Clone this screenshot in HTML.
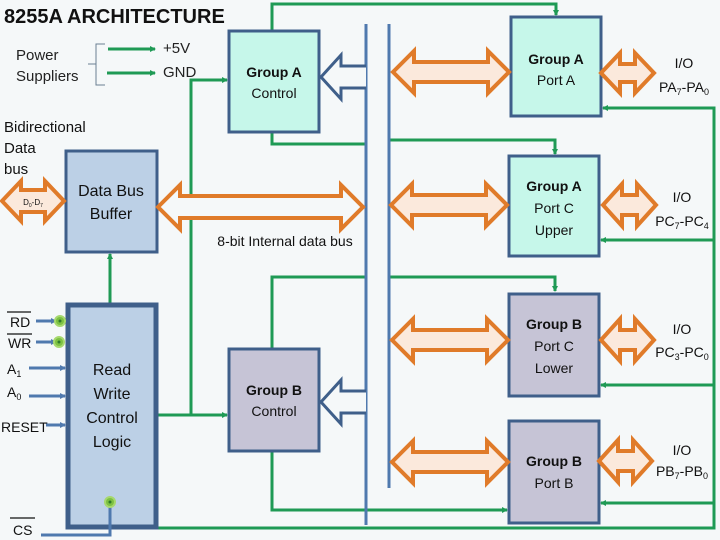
<!DOCTYPE html>
<html><head><style>
body{margin:0;background:#f5f8f9;}
svg{display:block;font-family:"Liberation Sans",sans-serif;}
</style></head><body>
<svg width="720" height="540" viewBox="0 0 720 540" xmlns="http://www.w3.org/2000/svg">
<defs>
<marker id="g" markerWidth="6" markerHeight="6" refX="5" refY="3" orient="auto" markerUnits="userSpaceOnUse"><path d="M0,0 L6,3 L0,6 Z" fill="#1f9a55"/></marker>
<marker id="b" markerWidth="6" markerHeight="6" refX="5" refY="3" orient="auto" markerUnits="userSpaceOnUse"><path d="M0,0 L6,3 L0,6 Z" fill="#4f79ae"/></marker>
</defs>
<rect width="720" height="540" fill="#f5f8f9"/>
<text x="4" y="23" font-size="20" font-weight="bold" fill="#111">8255A ARCHITECTURE</text>
<text x="16" y="60" font-size="15" fill="#222">Power</text>
<text x="16" y="81" font-size="15" fill="#222">Suppliers</text>
<path d="M105,44 H96 V85 H105 M96,64 H88" stroke="#6a7f93" fill="none" stroke-width="1"/>
<g stroke="#1f9a55" stroke-width="3" fill="none">
<line x1="108" y1="49" x2="155" y2="49" marker-end="url(#g)"/>
<line x1="107" y1="73" x2="155" y2="73" marker-end="url(#g)"/>
</g>
<text x="163" y="53" font-size="15" fill="#222">+5V</text>
<text x="163" y="77" font-size="15" fill="#222">GND</text>
<text x="4" y="132" font-size="15" fill="#111">Bidirectional</text>
<text x="4" y="153" font-size="15" fill="#111">Data</text>
<text x="4" y="174" font-size="15" fill="#111">bus</text>

<g stroke="#1f9a55" stroke-width="3" fill="none">
<polyline points="272,31 272,4 556,4 556,15" marker-end="url(#g)"/>
<polyline points="272,132 272,144 366,144"/>
<polyline points="389,140 555,140 555,154" marker-end="url(#g)"/>
<polyline points="272,349 272,277 366,277"/>
<polyline points="389,277 555,277 555,291" marker-end="url(#g)"/>
<polyline points="191,415 191,80 227,80" marker-end="url(#g)"/>
<polyline points="157,415 227,415" marker-end="url(#g)"/>
<polyline points="110,303 110,254" marker-end="url(#g)"/>
<polyline points="272,451 272,510 507,510" marker-end="url(#g)"/>
<polyline points="133,502 133,528 714,528 714,108 603,108" marker-end="url(#g)"/>
<polyline points="714,240 601,240" marker-end="url(#g)"/>
<polyline points="714,385 601,385" marker-end="url(#g)"/>
<polyline points="714,503 601,503" marker-end="url(#g)"/>
</g>

<g stroke="#4f79ae" stroke-width="3" fill="none">
<line x1="366" y1="24" x2="366" y2="525"/>
<line x1="389" y1="24" x2="389" y2="488"/>
</g>
<g stroke="#3f5f8a" stroke-width="3" fill="#f5f8f9">
<path d="M366,66 H341 V55 L321,77 L341,99 V88 H366"/>
<path d="M366,391 H341 V380 L321,402 L341,424 V413 H366"/>
</g>

<rect x="229" y="31" width="90" height="101" fill="#c6f7ea" stroke="#3f5f8a" stroke-width="3"/>
<text x="274" y="77" font-size="14" font-weight="bold" text-anchor="middle" fill="#111">Group A</text>
<text x="274" y="98" font-size="14" text-anchor="middle" fill="#111">Control</text>
<rect x="229" y="349" width="90" height="102" fill="#c6c4d6" stroke="#3f5f8a" stroke-width="3"/>
<text x="274" y="395" font-size="14" font-weight="bold" text-anchor="middle" fill="#111">Group B</text>
<text x="274" y="416" font-size="14" text-anchor="middle" fill="#111">Control</text>
<rect x="66" y="151" width="91" height="101" fill="#bcd0e6" stroke="#3f5f8a" stroke-width="3"/>
<text x="111" y="196" font-size="16" text-anchor="middle" fill="#111">Data Bus</text>
<text x="111" y="219" font-size="16" text-anchor="middle" fill="#111">Buffer</text>
<rect x="68" y="305" width="88" height="222" fill="#bcd0e6" stroke="#3f5f8a" stroke-width="5"/>
<text x="112" y="375" font-size="16" text-anchor="middle" fill="#111">Read</text>
<text x="112" y="399" font-size="16" text-anchor="middle" fill="#111">Write</text>
<text x="112" y="423" font-size="16" text-anchor="middle" fill="#111">Control</text>
<text x="112" y="447" font-size="16" text-anchor="middle" fill="#111">Logic</text>

<rect x="511" y="17" width="90" height="99" fill="#c6f7ea" stroke="#3f5f8a" stroke-width="3"/>
<text x="556" y="64" font-size="14" font-weight="bold" text-anchor="middle" fill="#111">Group A</text>
<text x="556" y="85" font-size="14" text-anchor="middle" fill="#111">Port A</text>
<rect x="509" y="156" width="90" height="100" fill="#c6f7ea" stroke="#3f5f8a" stroke-width="3"/>
<text x="554" y="191" font-size="14" font-weight="bold" text-anchor="middle" fill="#111">Group A</text>
<text x="554" y="213" font-size="14" text-anchor="middle" fill="#111">Port C</text>
<text x="554" y="235" font-size="14" text-anchor="middle" fill="#111">Upper</text>
<rect x="509" y="294" width="90" height="102" fill="#c6c4d6" stroke="#3f5f8a" stroke-width="3"/>
<text x="554" y="329" font-size="14" font-weight="bold" text-anchor="middle" fill="#111">Group B</text>
<text x="554" y="351" font-size="14" text-anchor="middle" fill="#111">Port C</text>
<text x="554" y="373" font-size="14" text-anchor="middle" fill="#111">Lower</text>
<rect x="509" y="421" width="90" height="102" fill="#c6c4d6" stroke="#3f5f8a" stroke-width="3"/>
<text x="554" y="466" font-size="14" font-weight="bold" text-anchor="middle" fill="#111">Group B</text>
<text x="554" y="488" font-size="14" text-anchor="middle" fill="#111">Port B</text>

<g stroke="#e07b2a" stroke-width="4" fill="#fbe9dc" stroke-linejoin="miter">
<path d="M158,207 L180,185 L180,196 L341,196 L341,185 L363,207 L341,229 L341,218 L180,218 L180,229 Z" fill="#f5f8f9"/>
<path d="M2,201 L21,181 L21,190 L45,190 L45,181 L64,201 L45,221 L45,212 L21,212 L21,221 Z"/>
<path d="M393,72 L414,51 L414,62 L488,62 L488,51 L509,72 L488,93 L488,82 L414,82 L414,93 Z"/>
<path d="M391,205 L412,184 L412,195 L486,195 L486,184 L507,205 L486,226 L486,215 L412,215 L412,226 Z"/>
<path d="M392,340 L413,319 L413,330 L487,330 L487,319 L508,340 L487,361 L487,350 L413,350 L413,361 Z"/>
<path d="M392,462 L413,441 L413,452 L487,452 L487,441 L508,462 L487,483 L487,472 L413,472 L413,483 Z"/>
<path d="M601,73 L620,53 L620,64 L635,64 L635,53 L654,73 L635,93 L635,82 L620,82 L620,93 Z"/>
<path d="M603,205 L622,184 L622,195 L637,195 L637,184 L656,205 L637,226 L637,215 L622,215 L622,226 Z"/>
<path d="M601,340 L620,319 L620,330 L635,330 L635,319 L654,340 L635,361 L635,350 L620,350 L620,361 Z"/>
<path d="M599,461 L618,440 L618,451 L633,451 L633,440 L652,461 L633,482 L633,471 L618,471 L618,482 Z"/>
</g>
<text x="33" y="205" font-size="8" text-anchor="middle" fill="#111">D<tspan font-size="5" dy="2">0</tspan><tspan dy="-2">-D</tspan><tspan font-size="5" dy="2">7</tspan></text>
<text x="285" y="246" font-size="14" text-anchor="middle" fill="#111">8-bit Internal data bus</text>

<g font-size="14" fill="#111" text-anchor="middle">
<text x="684" y="68">I/O</text>
<text x="684" y="92">PA<tspan font-size="9" dy="3">7</tspan><tspan dy="-3">-PA</tspan><tspan font-size="9" dy="3">0</tspan></text>
<text x="682" y="202">I/O</text>
<text x="682" y="226">PC<tspan font-size="9" dy="3">7</tspan><tspan dy="-3">-PC</tspan><tspan font-size="9" dy="3">4</tspan></text>
<text x="682" y="334">I/O</text>
<text x="682" y="357">PC<tspan font-size="9" dy="3">3</tspan><tspan dy="-3">-PC</tspan><tspan font-size="9" dy="3">0</tspan></text>
<text x="682" y="455">I/O</text>
<text x="682" y="476">PB<tspan font-size="9" dy="3">7</tspan><tspan dy="-3">-PB</tspan><tspan font-size="9" dy="3">0</tspan></text>
</g>

<g font-size="14" fill="#111">
<text x="10" y="327">RD</text>
<text x="8" y="348">WR</text>
<text x="7" y="374">A<tspan font-size="9" dy="3">1</tspan></text>
<text x="7" y="397">A<tspan font-size="9" dy="3">0</tspan></text>
<text x="1" y="432">RESET</text>
<text x="13" y="535">CS</text>
</g>
<g stroke="#111" stroke-width="1.2">
<line x1="7" y1="312" x2="31" y2="312"/>
<line x1="7" y1="334" x2="32" y2="334"/>
<line x1="10" y1="518" x2="35" y2="518"/>
</g>
<g stroke="#4f79ae" stroke-width="3" fill="none">
<line x1="36" y1="321" x2="56" y2="321" marker-end="url(#b)"/>
<line x1="36" y1="342" x2="56" y2="342" marker-end="url(#b)"/>
<line x1="29" y1="368" x2="65" y2="368" marker-end="url(#b)"/>
<line x1="29" y1="396" x2="65" y2="396" marker-end="url(#b)"/>
<line x1="46" y1="425" x2="65" y2="425" marker-end="url(#b)"/>
<polyline points="41,535 110,535 110,506"/>
</g>
<g fill="#7cc142" stroke="#a6d86e" stroke-width="2">
<circle cx="60" cy="321" r="5"/>
<circle cx="59" cy="342" r="5"/>
<circle cx="110" cy="502" r="5"/>
</g>
<g fill="#2f7a2a">
<circle cx="60" cy="321" r="1.5"/><circle cx="59" cy="342" r="1.5"/><circle cx="110" cy="502" r="1.5"/>
</g>
</svg>
</body></html>
